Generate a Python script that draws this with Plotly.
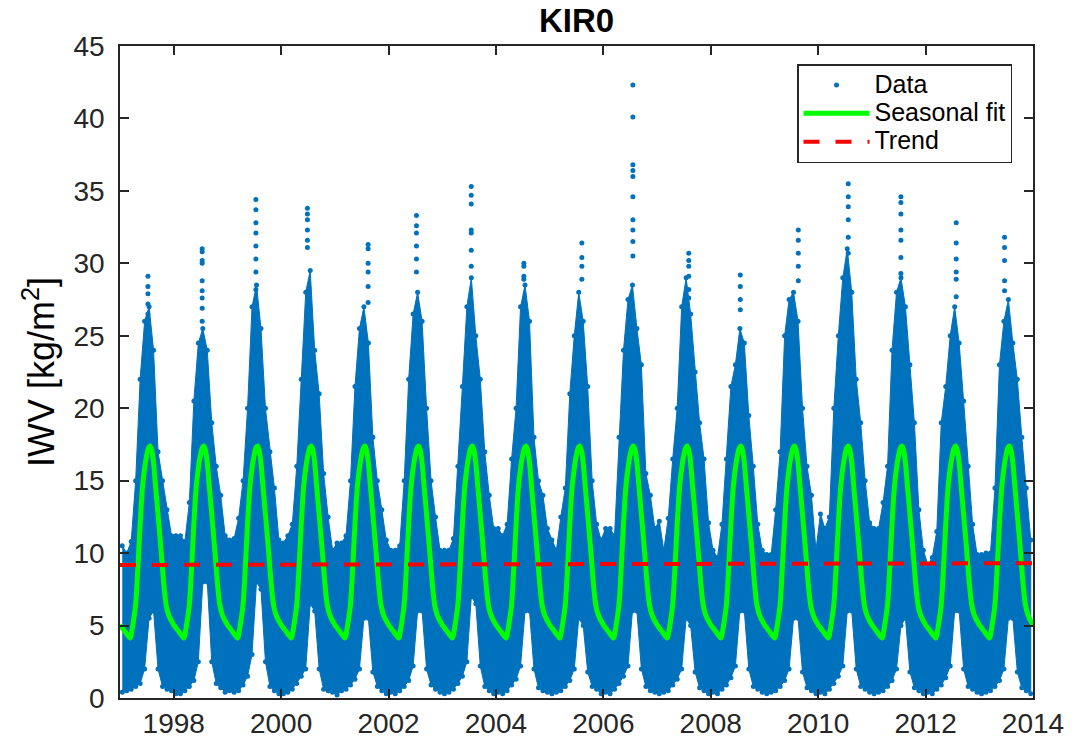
import plotly.graph_objects as go

# ---------------- data ----------------
years = list(range(1997, 2014))
month_index = list(range(12))

# upper edge of the dense data cloud, monthly (Jan..Dec), kg/m^2
data_high = [
    [10.5, 10.0, 10.8, 15.0, 22.0, 26.0, 27.0, 24.0, 17.0, 15.0, 13.0, 11.2],  # 1997
    [11.2, 11.2, 10.8, 13.5, 20.5, 24.5, 25.5, 24.0, 19.0, 16.0, 14.0, 11.2],  # 1998
    [10.9, 11.0, 12.4, 15.0, 20.0, 27.0, 28.5, 25.5, 20.0, 17.0, 14.5, 10.9],  # 1999
    [10.7, 11.2, 12.0, 16.0, 22.0, 28.0, 29.5, 24.0, 21.0, 15.5, 12.5, 10.2],  # 2000
    [10.7, 10.7, 11.2, 15.0, 21.5, 25.5, 27.0, 24.5, 18.0, 15.0, 13.0, 10.9],  # 2001
    [10.2, 10.2, 10.5, 15.0, 22.0, 26.5, 28.0, 26.0, 20.0, 15.0, 12.5, 10.2],  # 2002
    [10.2, 10.2, 11.0, 16.0, 21.5, 27.0, 29.0, 25.0, 22.0, 17.0, 14.0, 11.7],  # 2003
    [11.7, 11.2, 12.0, 16.5, 20.0, 27.0, 28.5, 26.0, 18.0, 15.0, 14.0, 11.7],  # 2004
    [10.9, 10.2, 12.5, 14.5, 21.0, 25.0, 28.0, 26.0, 21.5, 15.0, 12.0, 10.9],  # 2005
    [11.7, 11.7, 11.2, 18.0, 24.0, 27.5, 28.5, 25.5, 23.0, 15.5, 14.0, 11.7],  # 2006
    [12.2, 10.2, 12.4, 16.5, 20.0, 27.0, 29.0, 26.5, 22.5, 19.0, 16.5, 12.1],  # 2007
    [10.2, 9.7, 12.0, 16.5, 21.5, 23.0, 25.5, 24.5, 19.5, 16.0, 12.0, 10.2],  # 2008
    [9.9, 9.9, 13.0, 17.0, 25.0, 27.5, 28.0, 26.0, 20.0, 16.0, 14.0, 10.2],  # 2009
    [12.7, 11.7, 12.5, 20.0, 25.0, 29.0, 31.0, 28.0, 22.0, 19.0, 15.0, 12.1],  # 2010
    [11.7, 11.7, 13.5, 16.0, 24.0, 28.0, 29.0, 27.0, 23.0, 19.0, 13.0, 10.2],  # 2011
    [9.2, 9.7, 11.5, 19.0, 21.5, 25.0, 27.0, 24.5, 20.5, 16.0, 12.0, 9.9],  # 2012
    [9.9, 10.0, 10.0, 14.5, 23.0, 26.0, 27.5, 24.5, 22.0, 18.0, 14.5, 10.9],  # 2013
]

# lower edge of the data cloud, monthly (Jan..Dec), kg/m^2
data_low = [
    [0.4, 0.5, 0.6, 0.8, 1.0, 2.0, 5.5, 6.0, 2.0, 0.8, 0.6, 0.5],  # 1997
    [0.3, 0.3, 0.5, 0.8, 1.2, 2.5, 8.0, 8.0, 2.5, 1.0, 0.7, 0.4],  # 1998
    [0.5, 0.4, 0.5, 0.9, 1.5, 3.0, 8.0, 7.5, 2.5, 0.8, 0.5, 0.3],  # 1999
    [0.3, 0.4, 0.6, 1.0, 1.5, 2.0, 6.5, 6.0, 2.0, 0.6, 0.5, 0.4],  # 2000
    [0.2, 0.5, 0.6, 0.9, 1.3, 2.0, 5.5, 5.5, 1.8, 0.8, 0.5, 0.3],  # 2001
    [0.4, 0.3, 0.5, 0.8, 1.2, 2.2, 6.0, 6.0, 2.0, 0.9, 0.6, 0.4],  # 2002
    [0.3, 0.4, 0.6, 1.0, 1.5, 2.5, 7.0, 6.5, 2.2, 0.8, 0.5, 0.3],  # 2003
    [0.4, 0.3, 0.5, 0.9, 1.3, 2.2, 6.0, 6.0, 2.0, 0.7, 0.5, 0.4],  # 2004
    [0.3, 0.4, 0.5, 0.8, 1.2, 2.0, 5.5, 5.0, 1.8, 0.8, 0.6, 0.3],  # 2005
    [0.4, 0.3, 0.6, 1.0, 1.5, 2.2, 6.0, 6.0, 2.0, 0.8, 0.5, 0.4],  # 2006
    [0.3, 0.4, 0.5, 0.9, 1.3, 2.0, 5.5, 5.0, 1.8, 0.7, 0.5, 0.3],  # 2007
    [0.4, 0.3, 0.6, 0.9, 1.4, 2.2, 6.0, 6.0, 2.0, 0.8, 0.6, 0.4],  # 2008
    [0.3, 0.4, 0.5, 0.8, 1.2, 2.0, 5.5, 5.5, 1.8, 0.7, 0.5, 0.3],  # 2009
    [0.4, 0.3, 0.6, 1.0, 1.5, 2.2, 6.0, 6.0, 2.0, 0.8, 0.6, 0.4],  # 2010
    [0.3, 0.4, 0.5, 0.8, 1.2, 2.0, 5.0, 5.5, 1.8, 0.7, 0.5, 0.3],  # 2011
    [0.4, 0.3, 0.6, 0.9, 1.4, 2.2, 6.0, 6.0, 2.0, 0.8, 0.6, 0.4],  # 2012
    [0.3, 0.4, 0.5, 0.8, 1.2, 2.0, 5.5, 5.5, 1.8, 0.7, 0.5, 0.3],  # 2013
]

# isolated high values above the dense cloud (decimal year, IWV)
spike_x = [1997.52, 1998.53, 1999.53, 2000.49, 2001.62, 2002.52, 2003.54, 2004.52,
           2005.60, 2006.55, 2007.59, 2008.55, 2009.63, 2010.56, 2011.54, 2012.57, 2013.47]
spike_values = [
    [29.1, 28.4, 27.9, 27.2, 26.5],
    [31.0, 30.8, 30.2, 30.0, 28.8, 28.1, 27.6, 26.9, 26.0],
    [34.4, 33.7, 32.8, 32.1, 31.2, 30.3, 29.4, 28.2],
    [33.8, 33.4, 33.0, 32.3, 31.6, 31.1],
    [31.3, 31.0, 30.0, 29.4, 28.4, 27.3],
    [33.3, 32.6, 32.1, 31.2, 30.3, 29.4],
    [35.3, 34.7, 34.1, 32.3, 32.1, 30.9, 29.8],
    [30.0, 29.8, 29.1, 28.9],
    [31.4, 30.4, 29.8, 28.9],
    [42.3, 40.1, 36.8, 36.4, 36.0, 34.6, 33.0, 32.3, 31.5, 30.5],
    [30.7, 30.2, 29.8, 29.1, 28.2, 27.6],
    [29.2, 28.4, 27.5, 26.8],
    [32.3, 31.6, 30.7, 29.8, 28.8],
    [35.5, 34.6, 33.9, 33.0, 31.8, 30.7],
    [34.6, 34.2, 33.4, 32.3, 31.6, 30.4, 29.3],
    [32.8, 31.4, 30.3, 29.4, 28.9, 27.7],
    [31.8, 31.1, 30.2, 28.8, 28.1],
]

# seasonal fit: one annual cycle (fraction of year, IWV), identical every year
fit_phase = [0.00, 0.04, 0.08, 0.12, 0.16, 0.19, 0.22, 0.25, 0.29, 0.33, 0.375, 0.42,
             0.46, 0.50, 0.53, 0.56, 0.59, 0.62, 0.66, 0.70, 0.74, 0.78, 0.82, 0.86,
             0.90, 0.94, 0.97, 1.00]
fit_value = [5.05, 4.85, 4.65, 4.45, 4.25, 4.15, 4.6, 5.3, 6.4, 8.8, 12.0, 14.6,
             15.9, 16.8, 17.25, 17.4, 17.1, 16.4, 14.7, 13.0, 11.3, 9.5, 7.7, 6.4,
             5.8, 5.45, 5.25, 5.05]

# linear trend (start, end)
trend_x = [1997.0, 2014.0]
trend_y = [9.18, 9.30]

x_tick_years = [1998, 2000, 2002, 2004, 2006, 2008, 2010, 2012, 2014]
y_ticks = [0, 5, 10, 15, 20, 25, 30, 35, 40, 45]

# ---------------- build traces ----------------
BLUE = "#0072BD"
mx, hi, lo = [], [], []
for yi, yr in enumerate(years):
    for m in month_index:
        mx.append(yr + (m + 0.5) / 12.0)
        hi.append(data_high[yi][m])
        lo.append(data_low[yi][m])

cloud_x = mx + mx[::-1]
cloud_y = hi + lo[::-1]

sx, sy = [], []
for xv, vals in zip(spike_x, spike_values):
    for v in vals:
        sx.append(xv)
        sy.append(v)

fit_x, fit_y = [], []
for yr in years:
    for ph, v in zip(fit_phase[:-1], fit_value[:-1]):
        fit_x.append(yr + ph)
        fit_y.append(v)
fit_x.append(years[-1] + fit_phase[-1])
fit_y.append(fit_value[-1])

FONT = "Liberation Sans, Arial, Helvetica, sans-serif"
AX = "#262626"
LEG = '<span style="font-size:25px">%s</span>'

fig = go.Figure()
# dense data cloud (range of the observations month by month)
fig.add_trace(go.Scatter(x=cloud_x, y=cloud_y, mode="lines", fill="toself",
                         fillcolor=BLUE, line=dict(color=BLUE, width=1),
                         showlegend=False, hoverinfo="skip"))
fig.add_trace(go.Scatter(x=mx + mx, y=hi + lo, mode="markers", showlegend=False,
                         marker=dict(color=BLUE, size=5), hoverinfo="skip"))
fig.add_trace(go.Scatter(x=sx, y=sy, mode="markers", name=LEG % "Data",
                         marker=dict(color=BLUE, size=5)))
fig.add_trace(go.Scatter(x=fit_x, y=fit_y, mode="lines", name=LEG % "Seasonal fit",
                         line=dict(color="#00FF00", width=5, shape="spline")))
fig.add_trace(go.Scatter(x=trend_x, y=trend_y, mode="lines", name=LEG % "Trend",
                         line=dict(color="#FF0000", width=4, dash="16px,16px")))

fig.update_layout(
    width=1088, height=738,
    margin=dict(l=120, r=55, t=46, b=40, autoexpand=False),
    paper_bgcolor="white", plot_bgcolor="white",
    font=dict(family=FONT, color=AX, size=28),
    title=dict(text="<b>KIR0</b>", xref="paper", x=0.5, xanchor="center",
               yref="container", y=0.972, yanchor="middle",
               font=dict(family=FONT, size=33, color="black")),
    legend=dict(x=0.977, y=0.972, xanchor="right", yanchor="top",
                bgcolor="white", bordercolor=AX, borderwidth=1.5,
                font=dict(family=FONT, size=19.5, color="black"),
                itemwidth=66, tracegroupgap=0),
    showlegend=True,
)
fig.update_xaxes(range=[1997, 2014], tickmode="array", tickvals=x_tick_years,
                 ticktext=[str(v) for v in x_tick_years], automargin=False,
                 ticks="inside", ticklen=9, tickwidth=1.5, tickcolor=AX,
                 showline=True, linecolor=AX, linewidth=1.5, mirror="ticks",
                 showgrid=False, zeroline=False, ticklabelstandoff=0,
                 tickfont=dict(family=FONT, size=28, color=AX))
fig.update_yaxes(range=[0, 45], tickmode="array", tickvals=y_ticks, automargin=False,
                 ticks="inside", ticklen=9, tickwidth=1.5, tickcolor=AX,
                 showline=True, linecolor=AX, linewidth=1.5, mirror="ticks",
                 showgrid=False, zeroline=False, ticklabelstandoff=8,
                 tickfont=dict(family=FONT, size=28, color=AX),
                 title=dict(text="IWV [kg/m<sup>2</sup>]", standoff=8,
                            font=dict(family=FONT, size=36, color="black")))

fig.write_html("out.html", config={"displayModeBar": False},
               post_script="document.body.style.margin='0';"
                           "document.body.style.overflow='hidden';")
